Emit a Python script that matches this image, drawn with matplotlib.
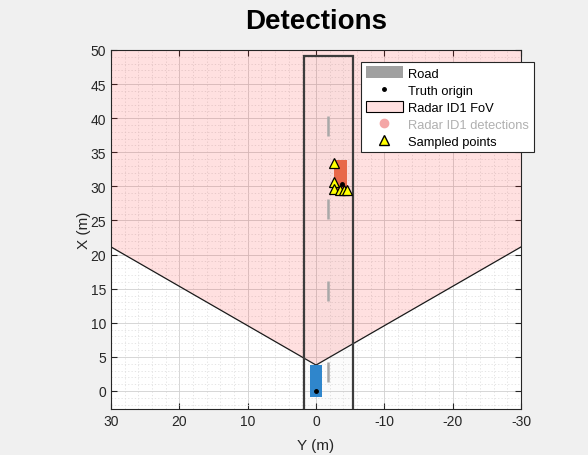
import numpy as np
import matplotlib.pyplot as plt
from matplotlib.patches import Rectangle, Polygon
from matplotlib.lines import Line2D
from matplotlib.ticker import MultipleLocator

plt.rcParams['font.family'] = ['Liberation Sans', 'DejaVu Sans']
plt.rcParams['axes.unicode_minus'] = False

# road (Y = lateral, X = longitudinal, metres)
road_left, road_right = 1.8, -5.4
road_start, road_end = -5.0, 49.1
lane_y = -1.8
lane_dash_start = [1.3, 13.2, 25.2, 37.4]
lane_dash_len = 2.9

# radar field of view
fov_origin = (0.0, 3.8)   # (Y, X)
fov_azimuth = 120.0
fov_range = 100.0

# vehicles: (Y centre, X rear, width, length)
ego = (0.0, -0.9, 1.8, 4.7)
target = (-3.6, 28.9, 1.9, 5.0)
ego_origin = (0.0, 0.0)
target_origin = (-3.75, 30.3)

# sampled points (Y, X)
sampled_y = [-2.65, -2.65, -2.65, -3.5, -4.1, -4.55]
sampled_x = [33.4, 30.6, 29.6, 29.5, 29.5, 29.5]

fig = plt.figure(figsize=(5.88, 4.56), dpi=100, facecolor='#f0f0f0')
ax = fig.add_axes([0.1888, 0.1009, 0.6973, 0.7873])
ax.set_facecolor('white')

# FoV wedge
half = np.deg2rad(fov_azimuth / 2)
ang = np.linspace(-half, half, 60)
pts = [fov_origin] + [(fov_origin[0] + fov_range * np.sin(a),
                       fov_origin[1] + fov_range * np.cos(a)) for a in ang]
ax.add_patch(Polygon(pts, closed=True, facecolor=(1, 0, 0, 0.12),
                     edgecolor='#1a1a1a', lw=0.9, zorder=2))

# road outline and lane dashes
ax.add_patch(Rectangle((road_right, road_start), road_left - road_right,
                       road_end - road_start, facecolor=(0.5, 0.5, 0.5, 0.03),
                       edgecolor='#3c3c3c', lw=1.6, zorder=3))
for s in lane_dash_start:
    ax.plot([lane_y, lane_y], [s, s + lane_dash_len], color='#a8a8a8',
            lw=1.8, solid_capstyle='butt', zorder=3)

# vehicles
for (cy, rx, w, l), col in [(ego, '#2f86cc'), (target, '#e8684a')]:
    ax.add_patch(Rectangle((cy - w / 2, rx), w, l, facecolor=col,
                           edgecolor='none', zorder=4))
ax.plot([ego_origin[0], target_origin[0]], [ego_origin[1], target_origin[1]],
        'k.', ms=5, zorder=5)

ax.plot(sampled_y, sampled_x, '^', mfc='#ffff00', mec='k', mew=0.9, ms=7,
        ls='none', zorder=6)

ax.set_xlim(30, -30)
ax.set_ylim(-2.64, 50)
ax.xaxis.set_major_locator(MultipleLocator(10))
ax.xaxis.set_minor_locator(MultipleLocator(2))
ax.yaxis.set_major_locator(MultipleLocator(5))
ax.yaxis.set_minor_locator(MultipleLocator(1))
ax.grid(which='major', color='#d0d0d0', lw=0.6, zorder=1)
ax.grid(which='minor', color='#e0e0e0', lw=0.6, ls=(0, (1.5, 2.5)), zorder=1)
ax.set_axisbelow(True)
ax.tick_params(which='both', direction='in', colors='#262626', labelsize=10,
               top=True, right=True)
ax.tick_params(which='minor', length=0)
ax.tick_params(which='major', length=4)
for sp in ax.spines.values():
    sp.set_color('#262626')
    sp.set_linewidth(0.8)

ax.set_xlabel('Y (m)', fontsize=11, color='#262626', labelpad=7.5)
ax.set_ylabel('X (m)', fontsize=11, color='#262626', labelpad=0)
fig.text(0.537, 0.952, 'Detections', fontsize=20, fontweight='bold',
         ha='center', va='center')

handles = [
    Rectangle((0, 0), 1, 1, facecolor='#a0a0a0', edgecolor='none'),
    Line2D([], [], marker='.', color='k', ls='none', ms=5),
    Rectangle((0, 0), 1, 1, facecolor='#ffe0e0', edgecolor='k', lw=0.8),
    Line2D([], [], marker='o', color='#f4a6a6', ls='none', ms=6),
    Line2D([], [], marker='^', mfc='#ffff00', mec='k', ls='none', ms=7),
]
labels = ['Road', 'Truth origin', 'Radar ID1 FoV', 'Radar ID1 detections',
          'Sampled points']
leg = fig.legend(handles, labels, loc='upper left',
                 bbox_to_anchor=(0.614, 0.862), fontsize=9.3, frameon=True,
                 fancybox=False, edgecolor='#262626', framealpha=1,
                 handlelength=2.9, handleheight=1.0, labelspacing=0.3,
                 borderpad=0.35, handletextpad=0.4, borderaxespad=0)
leg.get_frame().set_linewidth(0.8)
leg.get_texts()[3].set_color('#b0b0b0')

fig.savefig('out.png', dpi=100, facecolor=fig.get_facecolor())
